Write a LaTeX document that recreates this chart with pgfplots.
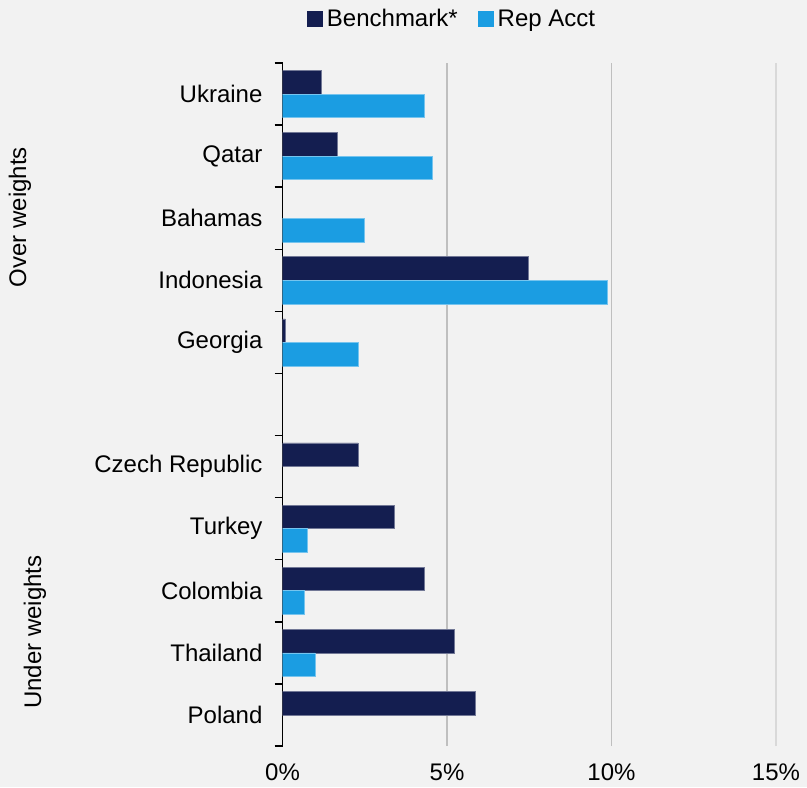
\documentclass[border=0pt]{standalone}
\usepackage{pgfplots}
\pgfplotsset{compat=1.18}
\usepackage{fontspec}
\setmainfont{Liberation Sans}
\definecolor{bg}{HTML}{F2F2F2}
\definecolor{navy}{HTML}{141E50}
\definecolor{sky}{HTML}{1B9DE2}
\definecolor{gridc}{HTML}{BFBFBF}
\definecolor{gridl}{HTML}{D9D9D9}
\pgfplotsset{sqlegend/.style={legend image code/.code={\fill[##1, draw=none] (0pt,-4pt) rectangle (8pt,4pt);}}}
\begin{document}
\begin{tikzpicture}[font=\fontsize{12}{14}\selectfont]
\path[use as bounding box, fill=bg] (0,0) rectangle (403.5pt,393.5pt);
\begin{axis}[
  at={(141.25pt,20.5pt)}, anchor=south west,
  scale only axis, width=246.75pt, height=341.5pt,
  xbar, bar width=0.38,
  xmin=0, xmax=15, ymin=-0.5, ymax=10.5,
  axis y line*=left, axis x line*=bottom,
  x axis line style={draw=none},
  y axis line style={black, line width=0.75pt},
  xtick={0,5,10},
  extra x ticks={15},
  extra x tick style={grid style={gridl, line width=0.6pt}},
  xmajorgrids, grid style={gridc, line width=0.9pt},
  major tick length=0pt,
  minor tick length=4pt,
  tick align=outside,
  xticklabel={\pgfmathprintnumber{\tick}\%},
  /pgf/number format/assume math mode=true,
  xticklabel style={yshift=-5.5pt},
  ytick={0,1,2,3,4,6,7,8,9,10},
  yticklabels={Poland,Thailand,Colombia,Turkey,Czech Republic,Georgia,Indonesia,Bahamas,Qatar,Ukraine},
  minor ytick={-0.5,0.5,...,10.5},
  minor y tick style={black, line width=0.75pt},
  yticklabel style={xshift=-6.5pt},
  legend style={at={(0.3455,1.0637)}, anchor=center, draw=none, fill=none,
    legend columns=2, font=\fontsize{12}{14}\selectfont,
    /tikz/every even column/.append style={column sep=8pt},
    nodes={inner sep=2pt}, cells={anchor=west}},
]
\addplot[fill=navy, draw=navy!60!white, line width=0.3pt, bar shift=0.19, sqlegend]
  coordinates {(1.19,10) (1.66,9) (7.48,7) (0.09,6) (2.30,4) (3.40,3) (4.31,2) (5.21,1) (5.86,0)};
\addplot[fill=sky, draw=sky!60!white, line width=0.3pt, bar shift=-0.19, sqlegend]
  coordinates {(4.30,10) (4.54,9) (2.48,8) (9.88,7) (2.30,6) (0.74,3) (0.67,2) (1.00,1)};
\legend{Benchmark*, Rep Acct}
\end{axis}
\node[rotate=90] at (10pt,285pt) {Over weights};
\node[rotate=90] at (17.5pt,77.5pt) {Under weights};
\end{tikzpicture}
\end{document}
